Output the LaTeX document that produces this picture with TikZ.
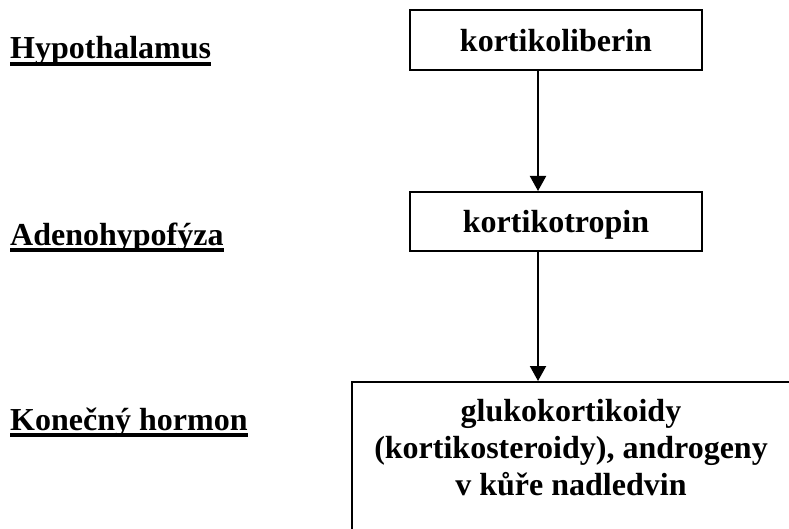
\documentclass[tikz,border=0pt]{standalone}
\usepackage{fontspec}
\setmainfont{Liberation Serif}
\usepackage{tikz}
\usetikzlibrary{arrows.meta,positioning}
\newcommand{\hfont}{\fontsize{32pt}{37pt}\selectfont\bfseries}
\tikzset{
  hbox/.style={draw=black, line width=2pt, inner sep=0pt, font=\hfont, text depth=0pt},
  htxt/.style={inner sep=0pt, font=\hfont, align=center},
  lvl/.style={anchor=base west, inner sep=0pt, font=\hfont},
  lvlline/.style={line width=4pt},
  flowarr/.style={-{Triangle[length=15pt,width=16pt]}, line width=2pt},
}
\begin{document}
\begin{tikzpicture}[x=1pt,y=-1pt]
  \useasboundingbox (0,0) rectangle (789,529);
  % levels on the left
  \node[lvl] (hyp) at (10,59) {Hypothalamus};
  \node[lvl] (adh) at (10,245) {Adenohypofýza};
  \node[lvl] (kon) at (10,430) {Konečný hormon};
  \draw[lvlline] ([yshift=-5pt]hyp.base west) -- ([yshift=-5pt]hyp.base east);
  \draw[lvlline] ([yshift=-5pt]adh.base west) -- ([yshift=-5pt]adh.base east);
  \draw[lvlline] ([yshift=-5pt]kon.base west) -- ([yshift=-5pt]kon.base east);
  % hormone boxes
  \node[hbox, minimum width=292pt, minimum height=60pt] (kl) at (556,40) {kortikoliberin};
  \node[hbox, minimum width=292pt, minimum height=59pt] (kt) at (556,221.5) {kortikotropin};
  \node[hbox, minimum width=438pt, minimum height=170pt] (fin) at (571,467) {};
  \node[htxt, below=18pt of fin.north] (fintxt)
    {glukokortikoidy\\(kortikosteroidy), androgeny\\v kůře nadledvin};
  % arrows
  \draw[flowarr] ([xshift=-18pt]kl.south) -- ([xshift=-18pt]kt.north);
  \draw[flowarr] ([xshift=-18pt]kt.south) -- ([xshift=-18pt]kt.south |- fin.north);
\end{tikzpicture}
\end{document}
